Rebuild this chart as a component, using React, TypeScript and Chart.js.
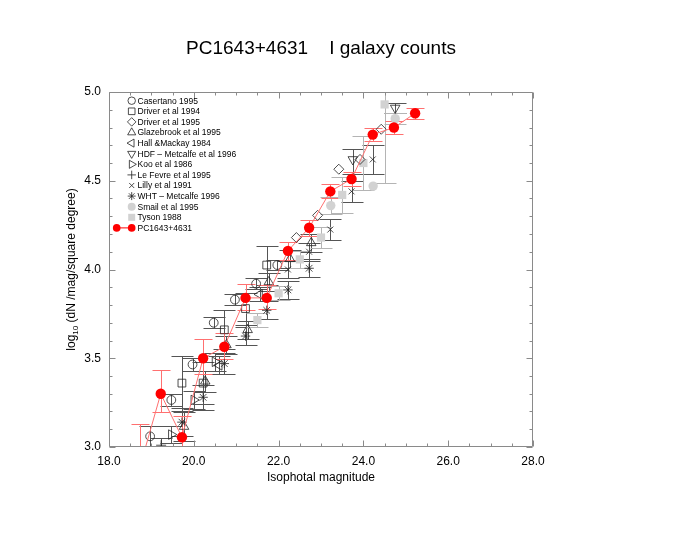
import React, { useEffect, useRef } from "react";
import { Chart, registerables } from "chart.js";
import { drawPoint } from "chart.js/helpers";

Chart.register(...registerables);

// ---------------- data ----------------
const titleText = "PC1643+4631    I galaxy counts";
const xTitle = "Isophotal magnitude";
const xTicks = [18, 20, 22, 24, 26, 28];
const yTicks = [3.0, 3.5, 4.0, 4.5, 5.0];

const casertanoMag = [18.97, 19.47, 19.97, 20.47, 20.97, 21.47, 21.97];
const casertanoLogN = [3.06, 3.265, 3.465, 3.7, 3.83, 3.92, 4.025];
const casertanoErr = [0.06, 0.035, 0.035, 0.03, 0.03, 0.03, 0.03];

const driver94Mag = [19.72, 20.22, 20.72, 21.22, 21.72];
const driver94LogN = [3.36, 3.36, 3.66, 3.78, 4.025];
const driver94Err = [0.155, 0.12, 0.11, 0.09, 0.11];

const driver95Mag = [22.42, 22.92, 23.42, 23.92, 24.42];
const driver95LogN = [4.18, 4.305, 4.565, 4.62, 4.79];
const driver95Err = [0, 0, 0, 0, 0];

const glazebrookMag = [19.77, 20.27, 20.77, 21.27, 21.77, 22.27, 22.77];
const glazebrookLogN = [3.115, 3.37, 3.575, 3.66, 3.93, 4.06, 4.15];
const glazebrookErr = [0.08, 0.06, 0.05, 0.05, 0.05, 0.05, 0.05];

const hallMag = [20.6, 21.55];
const hallLogN = [3.46, 3.86];
const hallErr = [0.05, 0.04];

const hdfMag = [23.75, 24.75];
const hdfLogN = [4.62, 4.91];
const hdfErrLo = [0.08, 0.03];
const hdfErrHi = [0.06, 0.03];

const kooMag = [19.47, 20.0, 20.5];
const kooLogN = [3.07, 3.265, 3.48];
const kooErr = [0.05, 0.05, 0.05];

const leFevreMag = [19.23];
const leFevreLogN = [3.01];
const leFevreErr = [0.04];

const lillyMag = [22.22, 22.72, 23.22, 23.72, 24.22];
const lillyLogN = [4.0, 4.1, 4.225, 4.44, 4.62];
const lillyErr = [0.05, 0.05, 0.06, 0.06, 0.08];

const whtMag = [19.72, 20.22, 20.72, 21.22, 21.72, 22.22, 22.72];
const whtLogN = [3.14, 3.28, 3.47, 3.625, 3.77, 3.885, 4.007];
const whtErr = [0.08, 0.07, 0.06, 0.05, 0.05, 0.05, 0.05];

const smailMag = [23.23, 24.23, 24.75];
const smailLogN = [4.36, 4.47, 4.85];
const smailErr = [0.05, 0, 0.03];

const tysonMag = [21.5, 22.0, 22.5, 23.0, 23.5, 24.0, 24.5];
const tysonLogN = [3.715, 3.866, 4.057, 4.18, 4.42, 4.6, 4.93];
const tysonErrLo = [0.04, 0.04, 0.05, 0.06, 0.1, 0.15, 0.44];
const tysonErrHi = [0.04, 0.04, 0.05, 0.06, 0.1, 0.15, 0.3];

const pcMag = [18.72, 19.22, 19.72, 20.22, 20.72, 21.22, 21.72, 22.22, 22.72, 23.22, 23.72, 24.22, 24.72, 25.22];
const pcLogN = [2.88, 3.3, 3.055, 3.5, 3.565, 3.84, 3.84, 4.105, 4.235, 4.44, 4.51, 4.76, 4.8, 4.88];
const pcErrHi = [0.25, 0.135, 0.12, 0.11, 0.08, 0.08, 0.07, 0.05, 0.045, 0.04, 0.04, 0.035, 0.035, 0.03];
const pcErrLo = [0.25, 0.1, 0.1, 0.09, 0.07, 0.07, 0.06, 0.05, 0.045, 0.04, 0.04, 0.035, 0.035, 0.03];

// ---------------- styling ----------------
const BLACK = "#222";
const GREY = "#d2d2d2";
const RED = "#ff0000";
const RED_LIGHT = "#ff7070";
const FONT = "'Liberation Sans', Arial, Helvetica, sans-serif";

const pts = (xs: number[], ys: number[]) => xs.map((x, i) => ({ x, y: ys[i] }));

function openSet(label: string, xs: number[], ys: number[], lo: number[], hi: number[], style: string, radius: number, rotation = 0) {
  return {
    label,
    data: pts(xs, ys),
    pointStyle: style,
    rotation,
    pointRadius: radius,
    pointBorderColor: BLACK,
    pointBackgroundColor: "rgba(0,0,0,0)",
    pointBorderWidth: 0.8,
    borderColor: BLACK,
    backgroundColor: "rgba(0,0,0,0)",
    showLine: false,
    order: 1,
    clip: 0,
    errLo: lo,
    errHi: hi,
    errColor: "#555",
    capHalf: 11,
  };
}

function greySet(label: string, xs: number[], ys: number[], lo: number[], hi: number[], style: string, radius: number) {
  return {
    label,
    data: pts(xs, ys),
    pointStyle: style,
    pointRadius: radius,
    pointBorderColor: GREY,
    pointBackgroundColor: GREY,
    pointBorderWidth: 0,
    borderColor: GREY,
    backgroundColor: GREY,
    showLine: false,
    order: 2,
    clip: 0,
    errLo: lo,
    errHi: hi,
    errColor: "#b4b4b4",
    capHalf: 11,
  };
}

const errorBarPlugin = {
  id: "errorBars",
  beforeDatasetsDraw(chart: any) {
    const { ctx, chartArea, scales } = chart;
    ctx.save();
    ctx.beginPath();
    ctx.rect(chartArea.left, chartArea.top, chartArea.right - chartArea.left, chartArea.bottom - chartArea.top);
    ctx.clip();
    ctx.lineWidth = 1;
    chart.data.datasets.forEach((ds: any) => {
      if (!ds.errLo) return;
      ctx.strokeStyle = ds.errColor;
      const cap = ds.capHalf;
      ds.data.forEach((p: any, j: number) => {
        const lo = ds.errLo[j];
        const hi = ds.errHi[j];
        if (!lo && !hi) return;
        const x = Math.round(scales.x.getPixelForValue(p.x)) + 0.5;
        const y0 = Math.round(scales.y.getPixelForValue(p.y - lo)) + 0.5;
        const y1 = Math.round(scales.y.getPixelForValue(p.y + hi)) + 0.5;
        ctx.beginPath();
        ctx.moveTo(x, y0);
        ctx.lineTo(x, y1);
        ctx.moveTo(x - cap, y0);
        ctx.lineTo(x + cap, y0);
        ctx.moveTo(x - cap, y1);
        ctx.lineTo(x + cap, y1);
        ctx.stroke();
      });
    });
    ctx.restore();
  },
};

const framePlugin = {
  id: "frame",
  afterDatasetsDraw(chart: any) {
    const { ctx, chartArea: a, scales } = chart;
    const L = Math.round(a.left) + 0.5, R = Math.round(a.right) - 0.5, T = Math.round(a.top) + 0.5, B = Math.round(a.bottom) - 0.5;
    ctx.save();
    ctx.strokeStyle = "#8a8a8a";
    ctx.lineWidth = 1;
    ctx.beginPath();
    ctx.rect(L, T, R - L, B - T);
    ctx.stroke();
    ctx.beginPath();
    for (let i = 0; i <= 20; i++) {
      const v = 18 + i * 0.5;
      const x = Math.round(scales.x.getPixelForValue(v)) + 0.5;
      const len = i % 4 === 0 ? 6 : 3;
      ctx.moveTo(x, B); ctx.lineTo(x, B - len);
      ctx.moveTo(x, T); ctx.lineTo(x, T + len);
    }
    for (let i = 0; i <= 20; i++) {
      const v = 3 + i * 0.1;
      const y = Math.round(scales.y.getPixelForValue(v)) + 0.5;
      const len = i % 5 === 0 ? 6 : 3;
      ctx.moveTo(L, y); ctx.lineTo(L + len, y);
      ctx.moveTo(R, y); ctx.lineTo(R - len, y);
    }
    ctx.stroke();
    ctx.restore();
  },
  afterDraw(chart: any) {
    const { ctx, chartArea: a } = chart;
    ctx.save();
    // title
    ctx.fillStyle = "#000";
    ctx.font = `19px ${FONT}`;
    ctx.textAlign = "center";
    ctx.textBaseline = "middle";
    ctx.fillText(titleText, (a.left + a.right) / 2, 49);
    // y-axis title with subscript
    ctx.translate(72, (a.top + a.bottom) / 2);
    ctx.rotate(-Math.PI / 2);
    const big = `12px ${FONT}`;
    const small = `8px ${FONT}`;
    const p1 = "log", p2 = "10", p3 = " (dN /mag/square degree)";
    ctx.font = big; const w1 = ctx.measureText(p1).width; const w3 = ctx.measureText(p3).width;
    ctx.font = small; const w2 = ctx.measureText(p2).width;
    let x = -(w1 + w2 + w3) / 2;
    ctx.textAlign = "left";
    ctx.font = big; ctx.fillText(p1, x, 0); x += w1;
    ctx.font = small; ctx.fillText(p2, x, 4); x += w2;
    ctx.font = big; ctx.fillText(p3, x, 0);
    ctx.restore();

    // legend
    ctx.save();
    ctx.font = `8.5px ${FONT}`;
    ctx.textAlign = "left";
    ctx.textBaseline = "middle";
    const items = chart.data.datasets;
    items.forEach((ds: any, i: number) => {
      const y = a.top + 8.7 + i * 10.6;
      const sx = 131.7;
      if (ds.showLine) {
        ctx.strokeStyle = RED;
        ctx.lineWidth = 1;
        ctx.beginPath(); ctx.moveTo(116.7, y); ctx.lineTo(sx, y); ctx.stroke();
        ctx.fillStyle = RED;
        drawPoint(ctx, { pointStyle: "circle", radius: 3.8, borderWidth: 0, rotation: 0 } as any, 116.7, y);
        drawPoint(ctx, { pointStyle: "circle", radius: 3.8, borderWidth: 0, rotation: 0 } as any, sx, y);
      } else {
        ctx.fillStyle = ds.pointBackgroundColor;
        ctx.strokeStyle = ds.pointBorderColor;
        ctx.lineWidth = ds.pointBorderWidth || 0.8;
        drawPoint(ctx, { pointStyle: ds.pointStyle, radius: ds.pointRadius * 0.85, borderWidth: ds.pointBorderWidth, rotation: ds.rotation || 0 } as any, sx, y);
      }
      ctx.fillStyle = "#000";
      ctx.fillText(ds.label, 137.5, y + 0.5);
    });
    ctx.restore();
  },
};

export default function App() {
  const ref = useRef<HTMLCanvasElement | null>(null);
  useEffect(() => {
    document.body.style.margin = "0";
    const datasets: any[] = [
      openSet("Casertano 1995", casertanoMag, casertanoLogN, casertanoErr, casertanoErr, "circle", 4.4),
      openSet("Driver et al 1994", driver94Mag, driver94LogN, driver94Err, driver94Err, "rect", 5.5),
      openSet("Driver et al 1995", driver95Mag, driver95LogN, driver95Err, driver95Err, "rectRot", 5),
      openSet("Glazebrook et al 1995", glazebrookMag, glazebrookLogN, glazebrookErr, glazebrookErr, "triangle", 5.5),
      openSet("Hall &Mackay 1984", hallMag, hallLogN, hallErr, hallErr, "triangle", 5.5, 270),
      openSet("HDF \u2013 Metcalfe et al 1996", hdfMag, hdfLogN, hdfErrLo, hdfErrHi, "triangle", 5.5, 180),
      openSet("Koo et al 1986", kooMag, kooLogN, kooErr, kooErr, "triangle", 5.5, 90),
      openSet("Le Fevre et al 1995", leFevreMag, leFevreLogN, leFevreErr, leFevreErr, "cross", 5),
      openSet("Lilly et al 1991", lillyMag, lillyLogN, lillyErr, lillyErr, "crossRot", 4.2),
      openSet("WHT \u2013 Metcalfe 1996", whtMag, whtLogN, whtErr, whtErr, "star", 4.7),
      greySet("Smail et al 1995", smailMag, smailLogN, smailErr, smailErr, "circle", 4.7),
      greySet("Tyson 1988", tysonMag, tysonLogN, tysonErrLo, tysonErrHi, "rect", 5.8),
      {
        label: "PC1643+4631",
        data: pts(pcMag, pcLogN),
        pointStyle: "circle",
        pointRadius: 5.2,
        pointBorderColor: RED,
        pointBackgroundColor: RED,
        pointBorderWidth: 0,
        borderColor: RED_LIGHT,
        backgroundColor: RED,
        borderWidth: 1,
        showLine: true,
        order: 0,
        clip: 0,
        errLo: pcErrLo,
        errHi: pcErrHi,
        errColor: RED_LIGHT,
        capHalf: 9,
      },
    ];
    const chart = new Chart(ref.current as HTMLCanvasElement, {
      type: "scatter",
      data: { datasets },
      options: {
        responsive: false,
        animation: false,
        devicePixelRatio: 1,
        layout: { padding: { left: 40, top: 92, right: 166, bottom: 54.8 } },
        plugins: { legend: { display: false }, tooltip: { enabled: false }, title: { display: false } },
        scales: {
          x: {
            type: "linear",
            min: 18,
            max: 28,
            afterBuildTicks: (s: any) => { s.ticks = xTicks.map((v) => ({ value: v })); },
            afterFit: (s: any) => { s.height = 38.2; },
            grid: { display: false, drawTicks: false },
            border: { display: false },
            ticks: { padding: 7, color: "#000", font: { size: 12, family: FONT }, maxRotation: 0, callback: (v: any) => Number(v).toFixed(1) },
            title: { display: true, text: xTitle, color: "#000", font: { size: 12, family: FONT }, padding: 0 },
          },
          y: {
            type: "linear",
            min: 3,
            max: 5,
            afterBuildTicks: (s: any) => { s.ticks = yTicks.map((v) => ({ value: v })); },
            afterFit: (s: any) => { s.width = 69; },
            grid: { display: false, drawTicks: false },
            border: { display: false },
            ticks: { padding: 8, color: "#000", font: { size: 12, family: FONT }, callback: (v: any) => Number(v).toFixed(1) },
            title: { display: false },
          },
        },
      },
      plugins: [errorBarPlugin, framePlugin],
    } as any);
    return () => chart.destroy();
  }, []);
  return (
    <div style={{ width: 699, height: 540 }}>
      <canvas ref={ref} width={699} height={540} style={{ display: "block" }} />
    </div>
  );
}
